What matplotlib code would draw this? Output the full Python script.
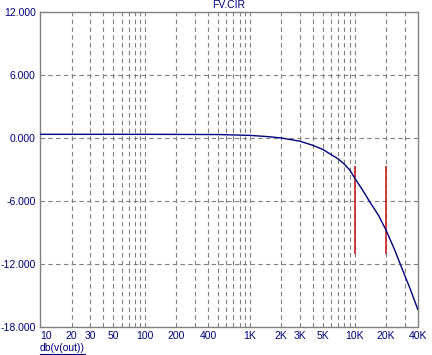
import numpy as np
import matplotlib.pyplot as plt
from matplotlib.lines import Line2D

plt.rcParams['font.family'] = ['Liberation Sans', 'DejaVu Sans']

# Data (frequency in Hz, gain in dB)
freq = [10, 100, 500, 1000, 1500, 2000, 3000, 4000, 5000, 5800, 7000, 8000,
        9000, 10000, 12000, 14000, 17000, 20000, 24000, 28000, 34000, 40000]
gain_db = [0.35, 0.35, 0.33, 0.25, 0.13, 0.0, -0.3, -0.7, -1.1, -1.5, -2.0, -2.5,
           -3.05, -3.8, -5.0, -6.1, -7.4, -8.8, -10.6, -12.3, -14.4, -16.3]

# cursor markers (vertical red lines)
cursor_freq = [10000, 20000]
cursor_top = -2.7
cursor_bottom = -11.0

xticks = [10, 20, 30, 50, 100, 200, 400, 1000, 2000, 3000, 5000, 10000, 20000, 40000]
xtick_labels = ['10', '20', '30', '50', '100', '200', '400', '1K', '2K', '3K',
                '5K', '10K', '20K', '40K']
yticks = [12, 6, 0, -6, -12, -18]
ytick_labels = ['12.000', '6.000', '0.000', '-6.000', '-12.000', '-18.000']

navy = '#000080'
grid_col = '#808080'

fig = plt.figure(figsize=(4.32, 3.55), dpi=100)
ax = fig.add_axes([40 / 432, 28 / 355, 377.7 / 432, 315 / 355])

ax.set_xscale('log')
ax.set_xlim(10, 40000)
ax.set_ylim(-18, 12)

# dashed grid at every log position (skipping the axis edges) and at the y ticks
grid_x = [m * 10 ** e for e in range(1, 5) for m in range(1, 10)
          if 10 < m * 10 ** e < 40000]
for gx in grid_x:
    ax.axvline(gx, color=grid_col, lw=0.8, ls=(0, (4, 3)), zorder=1)
for gy in yticks[1:-1]:
    ax.axhline(gy, color=grid_col, lw=0.8, ls=(0, (4, 3)), zorder=1)

ax.plot(freq, gain_db, color=navy, lw=1.0, zorder=3)
ax.vlines(cursor_freq, cursor_bottom, cursor_top, color='#cc2020', lw=1.2, zorder=2)

ax.set_xticks(xticks)
labels = ax.set_xticklabels(xtick_labels)
labels[0].set_horizontalalignment('left')
ax.set_xticks([], minor=True)
ax.set_yticks(yticks)
ax.set_yticklabels(ytick_labels)
ax.tick_params(length=0, labelsize=7.5, labelcolor=navy)
ax.tick_params(axis='x', pad=3)
ax.tick_params(axis='y', pad=3)

for s in ax.spines.values():
    s.set_color(grid_col)
    s.set_linewidth(1.0)

ax.set_title('FV.CIR', fontsize=7.5, color=navy, pad=3)

t = fig.text(40 / 432, 1 - 351 / 355, 'db(v(out))', fontsize=7.5, color=navy,
             ha='left', va='baseline')
fig.canvas.draw()
bb = t.get_window_extent().transformed(fig.transFigure.inverted())
fig.add_artist(Line2D([bb.x0, bb.x1], [bb.y0 - 0.003, bb.y0 - 0.003],
                      color=navy, lw=0.8, transform=fig.transFigure))

fig.savefig('out.png', dpi=100)
